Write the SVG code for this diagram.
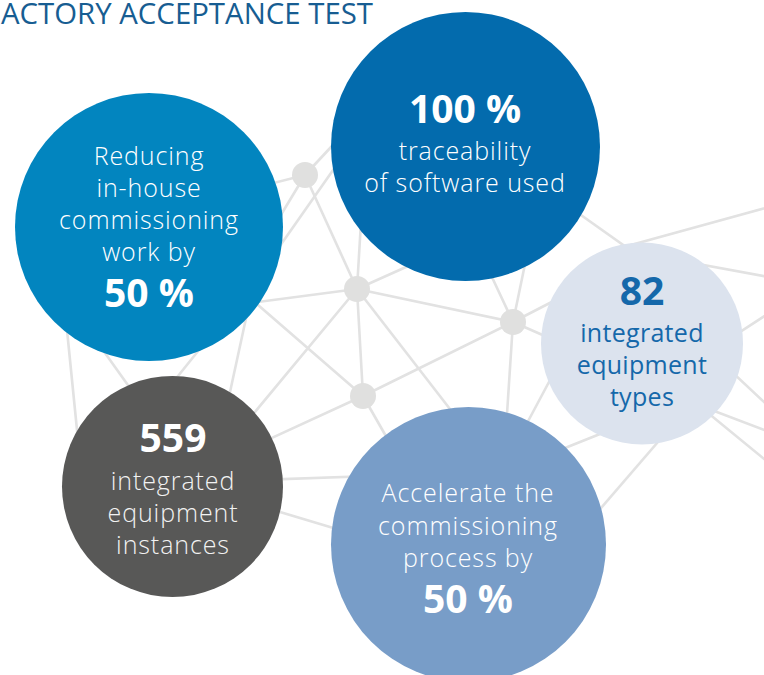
<svg xmlns="http://www.w3.org/2000/svg" width="764" height="675" viewBox="0 0 764 675">
<style>
.ln{stroke:#E2E2E2;stroke-width:2.6;fill:none;stroke-linecap:round}
.hub{fill:#E0E0DF}
.t{font-family:"Open Sans","Liberation Sans",sans-serif;font-weight:300;font-size:25px;letter-spacing:0.9px;text-anchor:middle;fill:#FFFFFF}
.b{font-family:"Open Sans","Liberation Sans",sans-serif;font-weight:700;font-size:39px;text-anchor:middle;fill:#FFFFFF}
.dk{fill:#1568AA;font-weight:400;letter-spacing:0.3px}
.title{font-family:"Open Sans","Liberation Sans",sans-serif;font-weight:400;font-size:29px;fill:#175D92}
</style>
<rect width="764" height="675" fill="#FFFFFF"/>
<text class="title" x="1" y="24" textLength="372" lengthAdjust="spacingAndGlyphs">ACTORY ACCEPTANCE TEST</text>
<g id="connectors">
<line class="ln" x1="305" y1="175" x2="250" y2="189"/>
<line class="ln" x1="305" y1="175" x2="345" y2="132"/>
<line class="ln" x1="305" y1="175" x2="270" y2="233"/>
<line class="ln" x1="345" y1="153" x2="275" y2="253"/>
<line class="ln" x1="305" y1="175" x2="357" y2="289"/>
<line class="ln" x1="357" y1="289" x2="361" y2="222"/>
<line class="ln" x1="357" y1="289" x2="250" y2="303"/>
<line class="ln" x1="357" y1="289" x2="415" y2="263"/>
<line class="ln" x1="357" y1="289" x2="513" y2="322"/>
<line class="ln" x1="357" y1="289" x2="245" y2="424"/>
<line class="ln" x1="357" y1="289" x2="363" y2="396"/>
<line class="ln" x1="357" y1="289" x2="460" y2="422"/>
<line class="ln" x1="363" y1="396" x2="250" y2="298"/>
<line class="ln" x1="250" y1="300" x2="225" y2="415"/>
<line class="ln" x1="363" y1="396" x2="250" y2="448"/>
<line class="ln" x1="363" y1="396" x2="513" y2="322"/>
<line class="ln" x1="363" y1="396" x2="403" y2="466"/>
<line class="ln" x1="200" y1="482" x2="400" y2="475"/>
<line class="ln" x1="220" y1="494" x2="400" y2="548"/>
<line class="ln" x1="64" y1="300" x2="80" y2="460"/>
<line class="ln" x1="90" y1="332" x2="140" y2="402"/>
<line class="ln" x1="170" y1="386" x2="215" y2="330"/>
<line class="ln" x1="513" y1="322" x2="483" y2="258"/>
<line class="ln" x1="513" y1="322" x2="530" y2="240"/>
<line class="ln" x1="513" y1="322" x2="573" y2="291"/>
<line class="ln" x1="513" y1="322" x2="563" y2="344"/>
<line class="ln" x1="513" y1="322" x2="504" y2="460"/>
<line class="ln" x1="565" y1="352" x2="510" y2="455"/>
<line class="ln" x1="540" y1="458" x2="620" y2="426"/>
<line class="ln" x1="570" y1="544" x2="670" y2="428"/>
<line class="ln" x1="540" y1="186" x2="650" y2="264"/>
<line class="ln" x1="620" y1="248" x2="780" y2="204"/>
<line class="ln" x1="660" y1="257" x2="780" y2="279"/>
<line class="ln" x1="700" y1="358" x2="780" y2="306"/>
<line class="ln" x1="700" y1="342" x2="780" y2="417"/>
<line class="ln" x1="680" y1="398" x2="780" y2="436"/>
<line class="ln" x1="680" y1="390" x2="780" y2="472"/>
<circle class="hub" cx="305" cy="175" r="13"/>
<circle class="hub" cx="357" cy="289" r="13"/>
<circle class="hub" cx="513" cy="322" r="13"/>
<circle class="hub" cx="363" cy="396" r="13"/>
</g>
<g id="node-reducing">
<circle cx="149" cy="227" r="134" fill="#0285BF"/>
<text class="t" x="149" y="165">Reducing</text>
<text class="t" x="149" y="197">in-house</text>
<text class="t" x="149" y="229">commissioning</text>
<text class="t" x="149" y="261">work by</text>
<text class="b" x="149" y="307">50 %</text>
</g>
<g id="node-traceability">
<circle cx="465.5" cy="146.5" r="134.5" fill="#036BAD"/>
<text class="b" x="465" y="123">100 %</text>
<text class="t" x="465" y="160">traceability</text>
<text class="t" x="465" y="192">of software used</text>
</g>
<g id="node-types">
<circle cx="642" cy="343.5" r="101" fill="#DCE3EE"/>
<text class="b" x="642" y="305" style="fill:#1568AA">82</text>
<text class="t dk" x="642" y="342">integrated</text>
<text class="t dk" x="642" y="374">equipment</text>
<text class="t dk" x="642" y="406">types</text>
</g>
<g id="node-instances">
<circle cx="172.5" cy="486.5" r="110.5" fill="#585857"/>
<text class="b" x="173" y="452">559</text>
<text class="t" x="173" y="490" style="fill:#F2F2F2">integrated</text>
<text class="t" x="173" y="522" style="fill:#F2F2F2">equipment</text>
<text class="t" x="173" y="554" style="fill:#F2F2F2">instances</text>
</g>
<g id="node-accelerate">
<circle cx="468.5" cy="544.5" r="137.5" fill="#789DC8"/>
<text class="t" x="468" y="502">Accelerate the</text>
<text class="t" x="468" y="535">commissioning</text>
<text class="t" x="468" y="567">process by</text>
<text class="b" x="468" y="613">50 %</text>
</g>
</svg>
